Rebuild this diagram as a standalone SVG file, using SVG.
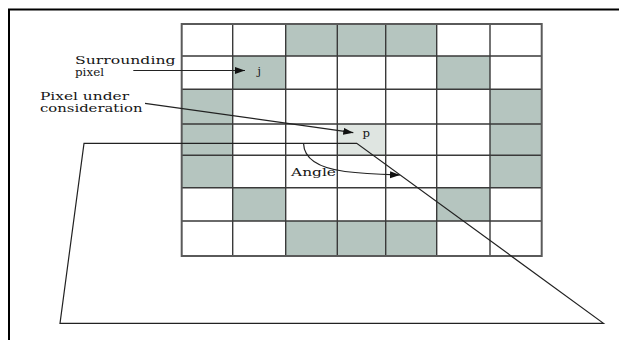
<svg xmlns="http://www.w3.org/2000/svg" width="619" height="340" viewBox="0 0 619 340">
<style>
.bg{fill:#ffffff}
.sh{fill:#b5c5bf}
.lt{fill:#dfe5e1}
.gl{stroke:#3a3a3a;stroke-width:1.4;fill:none}
.gb{stroke:#5a5a5a;stroke-width:2;fill:none}
.frame{stroke:#000;stroke-width:2;fill:none}
.ln{stroke:#222;stroke-width:1.2;fill:none}
.lbl{font-family:"DejaVu Serif","Liberation Serif",serif;font-size:11px;fill:#151515}
</style>
<defs>
<marker id="ah" markerUnits="userSpaceOnUse" markerWidth="12" markerHeight="8" refX="10" refY="3.5" orient="auto">
<path d="M0,0 L10,3.5 L0,7 Z" fill="#111"/>
</marker>
</defs>
<rect class="bg" x="0" y="0" width="619" height="340"/>
<g id="frame">
<path class="frame" d="M9,340 L9,9.5 L619,9.5"/>
</g>
<g id="grid">
<g id="shaded">
<rect class="sh" x="285.7" y="24" width="51.6" height="32"/>
<rect class="sh" x="337.3" y="24" width="48.4" height="32"/>
<rect class="sh" x="385.7" y="24" width="51" height="32"/>
<rect class="sh" x="232.7" y="56" width="53" height="33.3"/>
<rect class="sh" x="436.7" y="56" width="53.3" height="33.3"/>
<rect class="sh" x="181.7" y="89.3" width="51" height="98.4"/>
<rect class="sh" x="490" y="89.3" width="51.7" height="98.4"/>
<rect class="lt" x="337.3" y="124" width="48.4" height="31.3"/>
<rect class="sh" x="232.7" y="187.7" width="53" height="33.3"/>
<rect class="sh" x="436.7" y="187.7" width="53.3" height="33.3"/>
<rect class="sh" x="285.7" y="221" width="51.6" height="35"/>
<rect class="sh" x="337.3" y="221" width="48.4" height="35"/>
<rect class="sh" x="385.7" y="221" width="51" height="35"/>
</g>
<path class="gl" d="M232.7,24V256 M285.7,24V256 M337.3,24V256 M385.7,24V256 M436.7,24V256 M490,24V256 M181.7,56H541.7 M181.7,89.3H541.7 M181.7,124H541.7 M181.7,155.3H541.7 M181.7,187.7H541.7 M181.7,221H541.7"/>
<rect class="gb" x="181.7" y="24" width="360" height="232"/>
</g>
<g id="plane">
<path class="ln" d="M84,143.3 L356.7,143.3 L603.5,323.3 L60,323.3 Z"/>
</g>
<g id="labels">
<g id="surrounding-label">
<text class="lbl" x="75" y="63.5" textLength="100.5" lengthAdjust="spacingAndGlyphs">Surrounding</text>
<text class="lbl" x="75" y="75.5" textLength="29" lengthAdjust="spacingAndGlyphs">pixel</text>
</g>
<g id="consideration-label">
<text class="lbl" x="40" y="100" textLength="89" lengthAdjust="spacingAndGlyphs">Pixel under</text>
<text class="lbl" x="40" y="112" textLength="102.5" lengthAdjust="spacingAndGlyphs">consideration</text>
</g>
<g id="node-j"><text class="lbl" x="257.5" y="75">j</text></g>
<g id="node-p"><text class="lbl" x="362.5" y="136.5" textLength="7.5" lengthAdjust="spacingAndGlyphs">p</text></g>
<g id="angle-label"><text class="lbl" x="291" y="175.5" textLength="45" lengthAdjust="spacingAndGlyphs">Angle</text></g>
</g>
<g id="connectors">
<path class="ln" d="M133.3,70.5 L245,70.5" marker-end="url(#ah)"/>
<path class="ln" d="M145,103.3 L353.3,132.7" marker-end="url(#ah)"/>
<path class="ln" d="M303.5,143.3 C304,158 318,168 345,171.5 C365,174 385,174.5 400,175" marker-end="url(#ah)"/>
</g>
</svg>
